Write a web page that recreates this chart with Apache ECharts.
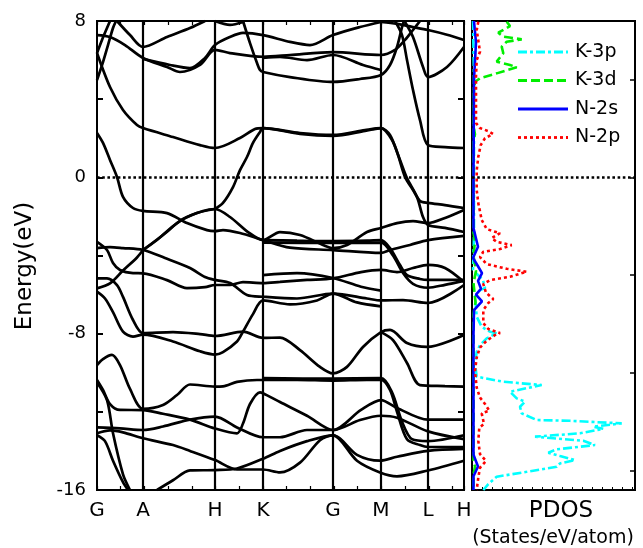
<!DOCTYPE html>
<html><head><meta charset="utf-8">
<script src="https://cdn.jsdelivr.net/npm/echarts@6/dist/echarts.min.js"></script>
<style>html,body{margin:0;padding:0;background:#fff}#c{width:643px;height:548px}</style>
</head><body><div id="c"></div>
<script>
// high-symmetry path (path length units) and labels
const kLabels = ['G', 'A', 'H', 'K', 'G', 'M', 'L', 'H'];
const kPos = [0, 46, 118, 166, 236, 284, 331, 367];
const energyTicks = [-16, -8, 0, 8];
const pdosTicks = [-15, -10, -5, 0, 5];

// band curves along the path: [k, E(eV)]
const bands = [
  [[0,2.27],[6,1.76],[13,0.89],[20,0.02],[26,-1.0],[36,-1.57],[46,-1.72],[70,-1.83],[90,-2.34],[110,-2.7],[118,-2.75],[126,-2.7],[143,-2.85],[166,-3.21],[193,-3.6],[236,-3.72],[284,-3.87],[293,-3.72],[313,-3.46],[331,-3.21],[367,-3.0]],
  [[0,6.36],[13,4.62],[26,3.45],[40,2.68],[46,2.52],[76,2.06],[103,1.65],[118,1.5],[143,2.01],[158,2.47],[166,2.52],[203,2.27],[236,2.17],[268,2.42],[284,2.52],[293,2.17],[301,1.14],[308,0.02],[316,-0.65],[323,-1.21],[331,-1.31],[348,-1.42],[367,-1.57]],
  [[118,-1.62],[126,-1.31],[136,-0.5],[143,0.37],[150,1.04],[156,1.76],[163,2.32],[166,2.52],[203,2.22],[236,2.12],[268,2.37],[284,2.52],[295,1.91],[303,0.89],[310,-0.04],[320,-1.0],[326,-2.03],[331,-2.44],[348,-2.59],[367,-2.8]],
  [[46,-3.72],[60,-3.21],[80,-2.34],[100,-1.83],[118,-1.62]],
  [[46,-3.72],[66,-2.95],[86,-2.13],[106,-1.72],[118,-1.62],[133,-2.03],[151,-2.8],[166,-3.21],[183,-2.8],[203,-2.95],[226,-3.46],[236,-3.62],[250,-3.46],[270,-2.8],[284,-2.59],[300,-2.34],[316,-2.24],[331,-2.34],[348,-2.08],[367,-1.67]],
  [[166,-3.21],[200,-3.24],[236,-3.26],[270,-3.24],[284,-3.21],[293,-3.62],[303,-4.49],[310,-5.0],[323,-5.2],[331,-5.25],[348,-5.25],[367,-5.25]],
  [[166,-3.34],[236,-3.36],[284,-3.34],[296,-4.0],[306,-4.9],[316,-5.45],[331,-5.65],[348,-5.5],[367,-5.3]],
  [[0,7.28],[13,7.18],[28,6.77],[46,6.11],[70,5.65],[83,5.39],[103,5.75],[118,6.52],[133,6.36],[166,6.17],[193,6.26],[236,6.41],[284,6.26],[298,6.52],[308,7.03],[316,7.54],[323,8.0]],
  [[46,6.06],[73,5.75],[93,5.59],[108,6.11],[118,6.77],[133,7.18],[146,7.39],[166,7.28],[193,6.93],[213,6.77],[236,7.28],[263,7.69],[284,7.95]],
  [[0,4.98],[6,5.9],[11,6.77],[16,7.64],[19,8.0]],
  [[0,6.36],[5,7.03],[10,7.64],[13,8.0]],
  [[20,8.0],[33,7.28],[46,6.67],[70,7.18],[93,7.64],[108,8.0]],
  [[146,8.0],[153,6.87],[160,5.85],[163,5.49],[166,5.39],[193,5.13],[236,4.88],[263,5.03],[284,5.24],[293,5.75],[300,6.67],[305,7.69],[307,8.0]],
  [[166,6.11],[183,6.16],[210,6.0],[236,6.26],[266,5.75],[284,5.49]],
  [[308,7.95],[316,7.18],[326,5.65],[331,5.13],[350,5.65],[367,6.67]],
  [[298,8.0],[305,7.28],[310,6.0],[316,4.47],[323,2.93],[331,1.65],[348,1.55],[367,1.5]],
  [[284,7.95],[300,7.85],[315,7.7],[331,7.54],[350,7.3],[367,7.03]],
  [[118,8.0],[133,7.8],[146,7.95]],
  [[0,-3.62],[13,-3.57],[26,-3.62],[46,-3.72],[68,-4.13],[93,-4.64],[108,-5.1],[118,-5.25],[133,-5.41],[150,-6.02],[166,-6.11],[200,-6.2],[236,-5.95],[270,-6.2],[284,-6.3],[306,-6.28],[331,-6.43],[367,-5.51]],
  [[0,-3.3],[10,-3.72],[16,-4.38],[23,-4.74],[36,-4.9],[46,-4.91],[70,-5.26],[90,-5.67],[108,-5.62],[118,-5.51],[133,-5.51],[146,-5.36],[166,-5.41],[183,-5.35],[210,-5.25],[236,-5.17],[264,-4.85],[284,-4.74],[300,-4.85],[316,-4.64],[331,-4.48],[348,-4.64],[367,-5.36]],
  [[0,-5.68],[13,-5.43],[26,-4.77],[40,-4.1],[46,-3.72]],
  [[0,-5.17],[10,-5.17],[20,-5.51],[26,-6.12],[36,-7.3],[46,-7.97],[76,-7.92],[103,-8.02],[118,-8.12],[146,-7.9],[166,-8.22],[183,-8.2],[203,-8.84],[223,-9.7],[236,-10.03],[250,-9.7],[266,-8.68],[284,-7.92],[293,-7.81],[310,-8.48],[330,-8.68],[367,-8.07]],
  [[0,-5.85],[8,-6.2],[16,-6.9],[26,-7.9],[36,-8.15],[46,-8.05],[76,-8.4],[103,-8.9],[118,-9.07],[126,-8.94],[140,-8.4],[146,-7.9],[156,-7.0],[166,-6.3],[193,-6.5],[220,-6.3],[236,-5.95],[260,-6.4],[284,-6.6]],
  [[166,-5.0],[200,-4.9],[236,-5.15],[264,-5.6],[284,-5.8]],
  [[284,-7.92],[296,-8.33],[310,-9.5],[323,-10.63],[348,-10.68],[367,-10.71]],
  [[0,-9.61],[6,-9.3],[15,-9.09],[23,-9.61],[33,-10.83],[46,-11.85],[66,-11.65],[80,-11.14],[93,-10.6],[118,-10.71],[126,-10.7],[140,-10.47],[160,-10.37],[166,-10.37],[200,-10.37],[236,-10.4],[270,-10.37],[284,-10.37],[293,-10.88],[300,-12.0],[310,-13.4],[323,-13.7],[331,-13.8],[367,-13.8]],
  [[166,-10.28],[236,-10.3],[284,-10.28],[295,-11.0],[305,-12.5],[315,-13.4],[331,-13.5],[367,-13.2]],
  [[0,-10.37],[6,-10.88],[13,-11.6],[23,-11.9],[46,-11.91],[66,-12.1],[93,-12.4],[118,-12.85],[140,-13.1],[146,-12.6],[153,-11.6],[163,-11.0],[166,-11.05],[183,-11.5],[210,-12.2],[236,-12.93],[264,-11.9],[284,-11.4],[300,-11.8],[331,-12.4],[367,-12.4]],
  [[0,-10.5],[10,-11.4],[16,-13.1],[26,-15.2],[33,-16.0]],
  [[0,-12.8],[23,-12.85],[46,-12.93],[66,-12.75],[93,-12.4],[118,-12.25],[140,-12.8],[166,-13.3],[183,-13.3],[210,-12.93],[236,-12.93],[263,-12.42],[284,-12.2],[300,-12.3],[331,-13.0],[367,-13.4]],
  [[0,-13.1],[13,-12.95],[26,-13.05],[46,-13.35],[76,-13.7],[93,-14.0],[118,-14.47],[140,-14.95],[166,-14.95],[183,-15.1],[203,-14.6],[223,-13.45],[236,-13.2],[260,-14.5],[283,-15.1],[300,-15.3],[331,-15.0],[367,-14.5]],
  [[0,-13.2],[8,-13.5],[16,-14.5],[26,-15.6],[31,-16.0]],
  [[60,-16.0],[76,-15.5],[93,-15.0],[118,-14.98],[140,-14.9],[166,-14.4],[183,-14.0],[210,-13.5],[236,-13.2],[260,-14.2],[283,-14.5],[300,-14.3],[331,-14.0],[367,-13.9]]
];

// projected DOS: [states, E(eV)]
const k3p = [[1,8],[2,5],[2,-3],[1,-4.74],[11,-5.26],[13,-5.67],[8,-5.77],[3,-6.1],[4.7,-7.13],[9.7,-7.65],[18,-7.9],[24.7,-7.98],[14.7,-8.24],[8,-8.58],[4.7,-8.93],[3,-9.52],[4.7,-10.2],[31.3,-10.46],[69.7,-10.63],[38,-10.97],[44.7,-11.31],[53,-11.48],[48,-11.74],[49.7,-12.08],[64.7,-12.42],[98,-12.46],[149.7,-12.59],[121.3,-12.76],[131.3,-12.87],[108,-13.1],[63,-13.27],[111.3,-13.48],[123,-13.7],[84.7,-13.92],[76.3,-14.09],[88,-14.26],[103,-14.47],[88,-14.64],[84.7,-14.81],[54.7,-15.07],[24.7,-15.32],[16.3,-15.7],[11.3,-16]];
const k3d = [[34.7,7.96],[38,7.74],[26.3,7.4],[31.3,7.2],[49.7,7.06],[34.7,6.94],[29.7,6.69],[31.3,6.35],[24.7,5.92],[38,5.75],[44.7,5.63],[24.7,5.32],[8,5.07],[3,4.89],[2,4.5],[1.5,2.6],[3,2.2],[1.5,1.8],[1.5,-2.8],[3,-3.3],[1.5,-4],[4,-4.8],[1.5,-5.4],[3.5,-6.4],[1.5,-7],[1.5,-14.5],[3,-14.8],[1.5,-15.2],[1.5,-16]];
const n2s = [[2,8],[4,6.9],[2,5],[1.5,0],[1.5,-2.6],[6,-3.55],[1,-4.13],[6,-4.55],[10,-4.9],[6,-5.3],[9,-5.7],[4,-6.0],[10,-6.35],[2,-6.8],[1.5,-8],[1.5,-14.2],[6,-14.8],[1.5,-15.3],[1.5,-16]];
const n2p = [[6.3,7.96],[4.7,7.54],[8,6.43],[4.7,6.0],[4,5.15],[4,2.78],[8,2.52],[16,2.37],[21,2.22],[13,2.0],[8.7,1.65],[6.3,1.05],[4.7,0.35],[4.7,-0.05],[4.7,-0.65],[6.3,-1.32],[9.7,-2.18],[14.7,-2.65],[28,-2.86],[19.7,-3.11],[24.7,-3.3],[39.7,-3.47],[28,-3.67],[11.3,-3.81],[8,-4.08],[14.7,-4.44],[34.7,-4.68],[54.7,-4.83],[38,-5.09],[18,-5.26],[11.3,-5.46],[14,-5.9],[21.3,-6.23],[16.3,-6.43],[11.3,-6.79],[11.3,-7.46],[16.3,-7.76],[28,-7.97],[23,-8.07],[14.7,-8.36],[8,-8.71],[4.7,-9.22],[3,-9.91],[4.7,-10.76],[8,-11.27],[13,-11.6],[17.3,-11.94],[9.7,-12.08],[12,-12.62],[7.3,-12.81],[6.3,-13.49],[8,-14.16],[14,-14.52],[8,-14.86],[6.3,-15.37],[4.7,-16]];

const FONT = '"DejaVu Sans", sans-serif';
const chart = echarts.init(document.getElementById('c'), null, {renderer: 'canvas'});

const pdos = [
  {name: 'K-3p', data: k3p, color: '#00FFFF', type: [9, 3, 3, 3]},
  {name: 'K-3d', data: k3d, color: '#00EE00', type: [9, 4]},
  {name: 'N-2s', data: n2s, color: '#0000FF', type: 'solid'},
  {name: 'N-2p', data: n2p, color: '#FF0000', type: [3, 3]}
];

const series = [];
bands.forEach(b => series.push({
  type: 'line', xAxisIndex: 0, yAxisIndex: 0, data: b, symbol: 'none',
  smooth: 0.3, lineStyle: {color: '#000', width: 2.7}, silent: true, z: 3
}));
// high-symmetry verticals and Fermi level
series.push({
  type: 'line', xAxisIndex: 0, yAxisIndex: 0, data: [], silent: true,
  markLine: {
    symbol: 'none', silent: true, label: {show: false}, animation: false,
    data: kPos.slice(1, -1).map(v => ({xAxis: v, lineStyle: {color: '#000', width: 2.2, type: 'solid'}}))
      .concat([{yAxis: 0, lineStyle: {color: '#000', width: 2.6, type: [2.6, 2.6]}}])
  }
});
pdos.forEach(p => series.push({
  type: 'line', name: p.name, xAxisIndex: 2, yAxisIndex: 2, data: p.data, symbol: 'none',
  lineStyle: {color: p.color, width: 2.6, type: p.type}, silent: true
}));
series.push({
  type: 'line', xAxisIndex: 2, yAxisIndex: 2, data: [], silent: true,
  markLine: {symbol: 'none', silent: true, label: {show: false}, animation: false,
    data: [{yAxis: 0, lineStyle: {color: '#000', width: 2.6, type: [2.6, 2.6]}}]}
});

// legend drawn inside the PDOS panel
const legendGraphics = [];
pdos.forEach((p, i) => {
  const y = 52 + i * 28.5;
  legendGraphics.push({type: 'line', shape: {x1: 518, y1: y, x2: 568, y2: y},
    style: {stroke: p.color, lineWidth: 2.8, lineDash: p.type === 'solid' ? null : p.type}});
  legendGraphics.push({type: 'text', x: 575, y: y, style: {text: p.name, fill: '#000',
    font: '19px ' + FONT, textVerticalAlign: 'middle'}});
});

const noLine = {show: false, onZero: false};
const minorTick = {show: true, inside: true, length: 4, lineStyle: {color: '#000', width: 1.2}};
chart.setOption({
  animation: false,
  grid: [
    {left: 97, top: 21, width: 367, height: 469, show: true, borderColor: '#000', borderWidth: 2},
    {left: 472, top: 21, width: 163, height: 469, show: true, borderColor: '#000', borderWidth: 2}
  ],
  xAxis: [
    {type: 'value', gridIndex: 0, min: 0, max: 367, interval: 23.7,
      axisLine: noLine, splitLine: {show: false}, axisTick: minorTick,
      axisLabel: {customValues: kPos, formatter: v => kLabels[kPos.indexOf(v)], color: '#000', fontSize: 20, fontFamily: FONT, margin: 11}},
    {type: 'value', gridIndex: 0, min: 0, max: 367, interval: 23.7, position: 'top',
      axisLine: noLine, splitLine: {show: false}, axisTick: minorTick, axisLabel: {show: false}},
    {type: 'value', gridIndex: 1, min: 0, max: 163, interval: 10,
      axisLine: noLine, splitLine: {show: false},
      axisTick: {show: true, inside: true, length: 3, lineStyle: {color: '#000', width: 1}},
      axisLabel: {show: false}}
  ],
  yAxis: [
    {type: 'value', gridIndex: 0, min: -16, max: 8, interval: 4, position: 'left',
      axisLine: noLine, splitLine: {show: false},
      axisTick: {show: true, inside: true, length: 6, lineStyle: {color: '#000', width: 2}},
      axisLabel: {color: '#000', fontSize: 18, fontFamily: FONT, margin: 11,
        formatter: v => energyTicks.includes(v) ? String(v) : ''}},
    {type: 'value', gridIndex: 0, min: -16, max: 8, interval: 4, position: 'right',
      axisLine: noLine, splitLine: {show: false},
      axisTick: {show: true, inside: true, length: 6, lineStyle: {color: '#000', width: 2}},
      axisLabel: {show: false}},
    {type: 'value', gridIndex: 1, min: -16, max: 8, position: 'right',
      axisLine: noLine, splitLine: {show: false},
      axisTick: {show: true, inside: true, length: 5, customValues: pdosTicks, lineStyle: {color: '#000', width: 1.5}},
      axisLabel: {show: false}}
  ],
  graphic: legendGraphics.concat([
    {type: 'text', x: 25, y: 266, rotation: Math.PI / 2,
      style: {text: 'Energy(eV)', fill: '#000', font: '23px ' + FONT, textAlign: 'center', textVerticalAlign: 'middle'}},
    {type: 'text', x: 561, y: 511, style: {text: 'PDOS', fill: '#000', font: '23px ' + FONT, textAlign: 'center', textVerticalAlign: 'middle'}},
    {type: 'text', x: 553, y: 538, style: {text: '(States/eV/atom)', fill: '#000', font: '19px ' + FONT, textAlign: 'center', textVerticalAlign: 'middle'}}
  ]),
  series: series
});
</script>
</body></html>
